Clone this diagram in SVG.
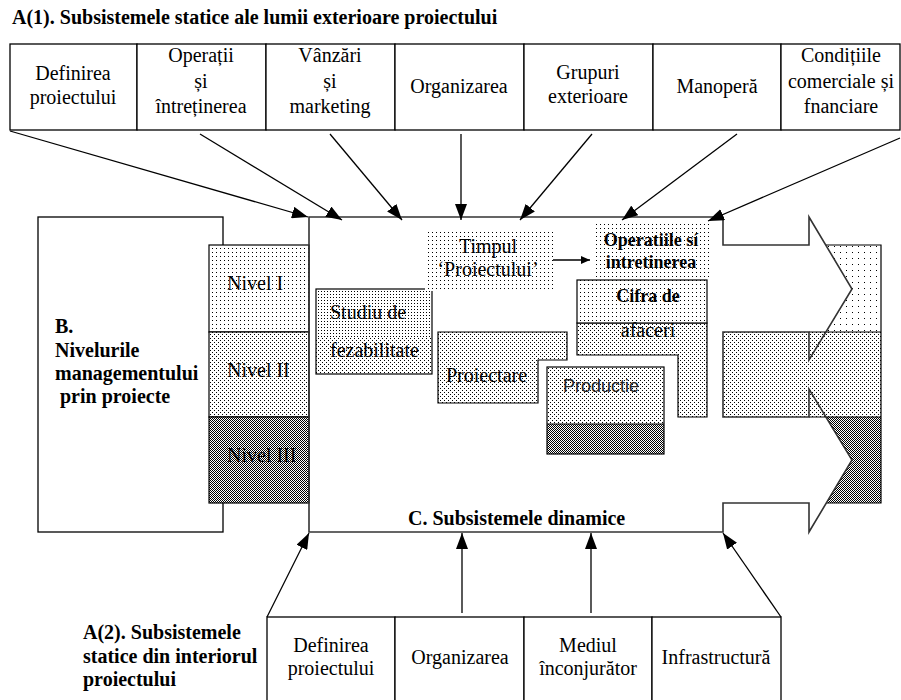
<svg xmlns="http://www.w3.org/2000/svg" width="901" height="700" viewBox="0 0 901 700">
  <style>
    .t { font-family: "Liberation Serif", "Times New Roman", serif; font-size: 20px; fill: #000; }
    .b { font-family: "Liberation Serif", "Times New Roman", serif; font-size: 20px; font-weight: bold; fill: #000; }
    .s { font-family: "Liberation Sans", Arial, sans-serif; font-size: 18px; fill: #222; }
    .c { text-anchor: middle; }
    .box { fill: #fff; stroke: #000; stroke-width: 1.3; }
    .edge { stroke: #000; stroke-width: 1.3; fill: none; }
    .frame { stroke: #333; stroke-width: 1.6; fill: none; }
    .ln { stroke: #000; stroke-width: 1.2; fill: none; }
  </style>
  <defs>
    <pattern id="dotWide" width="6" height="6" patternUnits="userSpaceOnUse">
      <rect width="6" height="6" fill="#fff"/>
      <rect x="0" y="0" width="1" height="1" fill="#000"/>
    </pattern>
    <pattern id="dotSparse" width="4" height="4" patternUnits="userSpaceOnUse">
      <rect width="4" height="4" fill="#fff"/>
      <rect x="0" y="0" width="1" height="1" fill="#000"/>
    </pattern>
    <pattern id="dotLight" width="3" height="3" patternUnits="userSpaceOnUse">
      <rect width="3" height="3" fill="#fff"/>
      <rect x="0" y="0" width="1" height="1" fill="#000"/>
    </pattern>
    <pattern id="dotMedium" width="4" height="4" patternUnits="userSpaceOnUse">
      <rect width="4" height="4" fill="#fff"/>
      <rect x="0" y="0" width="1" height="1" fill="#000"/>
      <rect x="2" y="2" width="1" height="1" fill="#000"/>
    </pattern>
    <pattern id="dotDark" width="2" height="2" patternUnits="userSpaceOnUse">
      <rect width="2" height="2" fill="#fff"/>
      <rect x="0" y="0" width="1" height="1" fill="#000"/>
      <rect x="1" y="1" width="1" height="1" fill="#000"/>
    </pattern>
    <marker id="arrow" viewBox="0 0 16 12" refX="16" refY="6" markerWidth="16" markerHeight="12" markerUnits="userSpaceOnUse" orient="auto">
      <path d="M0,0 L16,6 L0,12 Z" fill="#000"/>
    </marker>
    <marker id="arrowSmall" viewBox="0 0 9 8" refX="9" refY="4" markerWidth="9" markerHeight="8" markerUnits="userSpaceOnUse" orient="auto">
      <path d="M0,0 L9,4 L0,8 Z" fill="#000"/>
    </marker>
  </defs>

  <rect width="901" height="700" fill="#fff"/>

  <!-- heading of the outer static subsystems -->
  <text class="b" x="12" y="24">A(1). Subsistemele statice ale lumii exterioare proiectului</text>

  <!-- outer static subsystems -->
  <g id="ext-definirea">
    <rect class="box" x="10" y="44" width="127" height="86"/>
    <text class="t c" x="73" y="80">Definirea</text>
    <text class="t c" x="73" y="104">proiectului</text>
  </g>
  <g id="ext-operatii">
    <rect class="box" x="137" y="44" width="129" height="86"/>
    <text class="t c" x="201" y="62">Operații</text>
    <text class="t c" x="201" y="88">și</text>
    <text class="t c" x="201" y="113">întreținerea</text>
  </g>
  <g id="ext-vanzari">
    <rect class="box" x="266" y="44" width="129" height="86"/>
    <text class="t c" x="330" y="62">Vânzări</text>
    <text class="t c" x="330" y="88">și</text>
    <text class="t c" x="330" y="113">marketing</text>
  </g>
  <g id="ext-organizarea">
    <rect class="box" x="395" y="44" width="129" height="86"/>
    <text class="t c" x="459" y="93">Organizarea</text>
  </g>
  <g id="ext-grupuri">
    <rect class="box" x="524" y="44" width="129" height="86"/>
    <text class="t c" x="588" y="79">Grupuri</text>
    <text class="t c" x="588" y="103">exterioare</text>
  </g>
  <g id="ext-manopera">
    <rect class="box" x="653" y="44" width="128" height="86"/>
    <text class="t c" x="717" y="93">Manoperă</text>
  </g>
  <g id="ext-conditii">
    <rect class="box" x="781" y="44" width="119" height="86"/>
    <text class="t c" x="841" y="62">Condițiile</text>
    <text class="t c" x="841" y="88">comerciale și</text>
    <text class="t c" x="841" y="113">fnanciare</text>
  </g>

  <!-- B: management levels -->
  <g id="management">
    <rect class="box" x="38" y="217" width="185" height="315"/>
    <text class="b" x="55" y="333">B.</text>
    <text class="b" x="55" y="357">Nivelurile</text>
    <text class="b" x="55" y="380">managementului</text>
    <text class="b" x="55" y="403" xml:space="preserve"> prin proiecte</text>
  </g>
  <g id="nivel-1">
    <rect x="209" y="245" width="100" height="87" fill="url(#dotSparse)" stroke="#000" stroke-width="1.2"/>
    <text class="t" x="227" y="290">Nivel I</text>
  </g>
  <g id="nivel-2">
    <rect x="209" y="332" width="100" height="85" fill="url(#dotMedium)" stroke="#000" stroke-width="1.2"/>
    <text class="t" x="227" y="377">Nivel II</text>
  </g>
  <g id="nivel-3">
    <rect x="209" y="417" width="100" height="86" fill="url(#dotDark)" stroke="#000" stroke-width="1.2"/>
    <text class="t" x="227" y="462">Nivel III</text>
  </g>

  <!-- C: dynamic subsystems, drawn as a large notched arrow -->
  <g id="dynamic">
    <rect x="809" y="245" width="72" height="87" fill="url(#dotWide)"/>
    <polygon points="809,217 852,289 826.4,332 809,332" fill="#fff"/>
    <rect x="723" y="332" width="158" height="85" fill="url(#dotMedium)"/>
    <rect x="809" y="417" width="72" height="86" fill="url(#dotDark)"/>
    <polygon points="809,417 826,417 852,460 826.3,503 809,503" fill="#fff"/>
    <path class="ln" d="M826,245 H881 V503 H826 M809,332 H881 M809,417 H881"/>
    <path class="frame" d="M309,217 H723 V245 H809 V217 L852,289 L809,360 V332 H723 V417 H809 V389 L852,460 L809,532 V503 H723 V532 H309 Z"/>
    <text class="b" x="408" y="525">C. Subsistemele dinamice</text>
  </g>

  <g id="studiu">
    <rect x="316" y="289" width="116" height="48" fill="url(#dotLight)"/>
    <rect x="316" y="337" width="116" height="37" fill="url(#dotMedium)"/>
    <rect x="316" y="289" width="116" height="85" fill="none" stroke="#000" stroke-width="1.2"/>
    <text class="t" x="330" y="319">Studiu de</text>
    <text class="t" x="330" y="357">fezabilitate</text>
  </g>

  <g id="timpul">
    <rect x="425" y="232" width="128" height="59" fill="url(#dotSparse)"/>
    <text class="t c" x="488" y="253">Timpul</text>
    <text class="t c" x="488" y="276">‘Proiectului’</text>
  </g>

  <g id="operatiile">
    <rect x="593" y="221" width="116" height="59" fill="url(#dotSparse)"/>
    <text class="b c" x="651" y="246" style="font-size:18px">Operatiile sí</text>
    <text class="b c" x="651" y="268" style="font-size:18px">intretinerea</text>
  </g>

  <g id="cifra">
    <path d="M577,323 H707 V417 H678 V355 H577 Z" fill="url(#dotMedium)" stroke="#000" stroke-width="1.2"/>
    <rect x="577" y="280" width="130" height="43" fill="url(#dotSparse)" stroke="#000" stroke-width="1.2"/>
    <text class="b c" x="648" y="302" style="font-size:18px">Cifra de</text>
    <text class="t c" x="648" y="337">afaceri</text>
  </g>

  <g id="proiectare">
    <path d="M438,332 H567 V360 H538 V403 H438 Z" fill="url(#dotMedium)" stroke="#000" stroke-width="1.2"/>
    <text class="t" x="446" y="382">Proiectare</text>
  </g>

  <g id="productie">
    <rect x="547" y="367" width="117" height="57" fill="url(#dotMedium)"/>
    <rect x="547" y="424" width="117" height="30" fill="url(#dotDark)"/>
    <rect x="547" y="367" width="117" height="87" fill="none" stroke="#000" stroke-width="1.2"/>
    <line x1="547" y1="424" x2="664" y2="424" stroke="#000" stroke-width="1"/>
    <text class="s" x="563" y="392">Productie</text>
  </g>

  <!-- heading of the inner static subsystems -->
  <g id="int-heading">
    <text class="b" x="83" y="639">A(2). Subsistemele</text>
    <text class="b" x="83" y="663">statice din interiorul</text>
    <text class="b" x="83" y="686">proiectului</text>
  </g>

  <!-- inner static subsystems -->
  <g id="int-definirea">
    <rect class="box" x="267" y="617" width="128" height="100"/>
    <text class="t c" x="331" y="652">Definirea</text>
    <text class="t c" x="331" y="675">proiectului</text>
  </g>
  <g id="int-organizarea">
    <rect class="box" x="395" y="617" width="129" height="100"/>
    <text class="t c" x="460" y="664">Organizarea</text>
  </g>
  <g id="int-mediul">
    <rect class="box" x="524" y="617" width="128" height="100"/>
    <text class="t c" x="588" y="652">Mediul</text>
    <text class="t c" x="588" y="675">înconjurător</text>
  </g>
  <g id="int-infrastructura">
    <rect class="box" x="652" y="617" width="129" height="100"/>
    <text class="t c" x="716" y="664">Infrastructură</text>
  </g>

  <!-- connectors -->
  <g id="connectors">
    <line class="edge" x1="10" y1="131" x2="308" y2="217" marker-end="url(#arrow)"/>
    <line class="edge" x1="200" y1="134" x2="342" y2="220" marker-end="url(#arrow)"/>
    <line class="edge" x1="330" y1="134" x2="402" y2="220" marker-end="url(#arrow)"/>
    <line class="edge" x1="461" y1="134" x2="461" y2="220" marker-end="url(#arrow)"/>
    <line class="edge" x1="592" y1="134" x2="520" y2="220" marker-end="url(#arrow)"/>
    <line class="edge" x1="737" y1="134" x2="622" y2="220" marker-end="url(#arrow)"/>
    <line class="edge" x1="900" y1="138" x2="708" y2="221" marker-end="url(#arrow)"/>
    <line class="edge" x1="553" y1="260" x2="590" y2="260" marker-end="url(#arrowSmall)"/>
    <line class="edge" x1="267" y1="617" x2="309" y2="533" marker-end="url(#arrow)"/>
    <line class="edge" x1="462" y1="613" x2="462" y2="533" marker-end="url(#arrow)"/>
    <line class="edge" x1="591" y1="613" x2="591" y2="533" marker-end="url(#arrow)"/>
    <line class="edge" x1="781" y1="617" x2="723" y2="533" marker-end="url(#arrow)"/>
  </g>
</svg>
